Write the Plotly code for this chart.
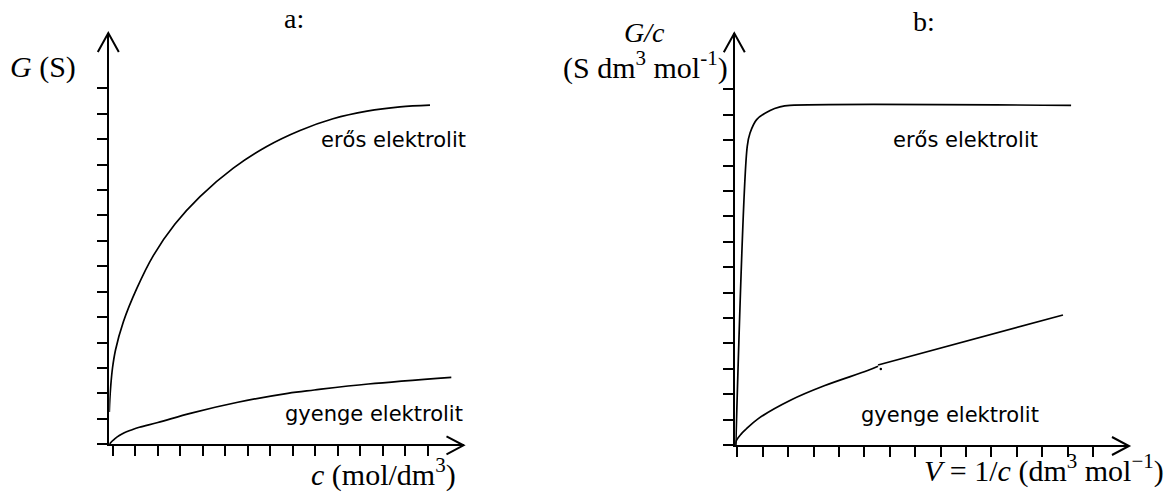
import plotly.graph_objects as go

# ---------------- panel a: conductance G against concentration c ----------------
c_strong = [0.0, 0.022, 0.067, 0.142, 0.276, 0.622, 1.218, 1.956, 2.920, 4.031,
            5.511, 6.996, 8.476, 9.942, 11.453, 12.920, 14.253]
G_strong = [1.27, 1.74, 2.33, 3.00, 3.71, 4.81, 6.12, 7.42, 8.66, 9.74,
            10.86, 11.71, 12.34, 12.80, 13.10, 13.27, 13.34]

c_weak = [0.0, 0.044, 0.133, 0.267, 0.444, 0.667, 0.978, 1.333, 2.156, 3.644, 5.711, 7.933, 9.111, 11.511, 15.20]
G_weak = [0.0, 0.047, 0.130, 0.236, 0.346, 0.456, 0.562, 0.669, 0.857, 1.227, 1.652, 2.006, 2.135, 2.371, 2.635]

c_ticks = [0.15, 1.15, 2.15, 3.15, 4.15, 5.15, 6.15, 7.15, 8.15, 9.15, 10.15, 11.15, 12.15, 13.15, 14.15]
G_ticks = [0, 1, 2, 3, 4, 5, 6, 7, 8, 9, 10, 11, 12, 13, 14]

# ---------------- panel b: molar conductance G/c against dilution V = 1/c ----------------
V_strong = [0.02, 0.47, 0.58, 0.84, 1.37, 1.76, 2.15, 13.22]
L_strong = [0.0, 11.76, 12.28, 12.81, 13.17, 13.31, 13.37, 13.37]

V_weak_curve = [0.0, 0.05, 0.22, 0.42, 0.88, 2.19, 3.50, 5.21, 5.62]
L_weak_curve = [0.0, 0.19, 0.42, 0.62, 1.02, 1.77, 2.33, 2.93, 3.10]
V_weak_line = [5.62, 12.90]
L_weak_line = [3.15, 5.12]

V_specks = [0.54, 5.73]
L_specks = [16.42, 2.99]

V_ticks = [0.08, 1.08, 2.08, 3.08, 4.08, 5.08, 6.08, 7.08, 8.08, 9.08, 10.08, 11.08, 12.08, 13.08, 14.08]
L_ticks = [0, 1, 2, 3, 4, 5, 6, 7, 8, 9, 10, 11, 12, 13, 14]

# ---------------- canvas geometry ----------------
W, H = 1176, 495
SERIF = "Liberation Serif, Times New Roman, serif"
SANS = "DejaVu Sans, Arial, sans-serif"
INK = "black"


def fx(px):
    return px / W


def fy(py):
    return 1 - py / H


# plot frames in pixels: (left, right, bottom, top)
A = (109.3, 463.5, 444.3, 33.0)
B = (735.3, 1129.0, 445.0, 33.3)
A_XSTEP, A_YSTEP = 22.5, 25.43
B_XSTEP, B_YSTEP = 25.4, 25.4

fig = go.Figure()

curve = dict(color=INK, width=1.7)
fig.add_trace(go.Scatter(x=c_strong, y=G_strong, mode="lines", line=dict(shape="spline", smoothing=1.0, **curve),
                         xaxis="x", yaxis="y", hoverinfo="skip"))
fig.add_trace(go.Scatter(x=c_weak, y=G_weak, mode="lines", line=dict(shape="spline", smoothing=1.0, **curve),
                         xaxis="x", yaxis="y", hoverinfo="skip"))
fig.add_trace(go.Scatter(x=V_strong, y=L_strong, mode="lines", line=dict(shape="spline", smoothing=0.9, **curve),
                         xaxis="x2", yaxis="y2", hoverinfo="skip"))
fig.add_trace(go.Scatter(x=V_weak_curve, y=L_weak_curve, mode="lines", line=dict(shape="spline", smoothing=1.0, **curve),
                         xaxis="x2", yaxis="y2", hoverinfo="skip"))
fig.add_trace(go.Scatter(x=V_weak_line, y=L_weak_line, mode="lines", line=dict(**curve),
                         xaxis="x2", yaxis="y2", hoverinfo="skip"))
fig.add_trace(go.Scatter(x=V_specks, y=L_specks, mode="markers", marker=dict(color=INK, size=2.5),
                         cliponaxis=False, xaxis="x2", yaxis="y2", hoverinfo="skip"))


def axis(dom, rng, ticks, anchor):
    return dict(domain=dom, range=rng, tickvals=ticks, showticklabels=False, ticks="outside",
                ticklen=10, tickwidth=1.5, tickcolor=INK, showline=True, linewidth=2, linecolor=INK,
                showgrid=False, zeroline=False, fixedrange=True, anchor=anchor)


fig.update_layout(
    width=W, height=H, margin=dict(l=0, r=0, t=0, b=0),
    paper_bgcolor="white", plot_bgcolor="white", showlegend=False,
    xaxis=axis([fx(A[0]), fx(A[1])], [0, (A[1] - A[0]) / A_XSTEP], c_ticks, "y"),
    yaxis=axis([fy(A[2]), fy(A[3])], [0, (A[2] - A[3]) / A_YSTEP], G_ticks, "x"),
    xaxis2=axis([fx(B[0]), fx(B[1])], [0, (B[1] - B[0]) / B_XSTEP], V_ticks, "y2"),
    yaxis2=axis([fy(B[2]), fy(B[3])], [0, (B[2] - B[3]) / B_YSTEP], L_ticks, "x2"),
)

# open arrow heads at the ends of both axes of each panel
for xr, yr in (("x domain", "y domain"), ("x2 domain", "y2 domain")):
    fig.add_shape(type="path", xref=xr, yref=yr, xsizemode="pixel", ysizemode="pixel",
                  xanchor=1, yanchor=0, path="M-17,8 L0,-1 L-17,-10",
                  line=dict(color=INK, width=2))
    fig.add_shape(type="path", xref=xr, yref=yr, xsizemode="pixel", ysizemode="pixel",
                  xanchor=0, yanchor=1, path="M-11.5,-19 L-1,0 L9.5,-19",
                  line=dict(color=INK, width=2))


def label(text, cx, baseline, family, size, descent):
    fig.add_annotation(text=text, xref="paper", yref="paper", x=fx(cx),
                       y=fy(baseline + descent * size + 1), xanchor="center", yanchor="bottom",
                       showarrow=False, font=dict(family=family, size=size, color=INK))


def serif(text, cx, baseline, size=30):
    label(text, cx, baseline, SERIF, size, 0.216)


def sans(text, cx, baseline, size=21):
    label(text, cx, baseline, SANS, size, 0.236)


serif("a:", 293.5, 29, 28)
serif("b:", 924, 32, 28)
serif("<i>G</i> (S)", 43, 79)
serif("<i>c</i> (mol/dm<sup>3</sup>)", 383, 487)
serif("<i>G/c</i>", 644, 43, 28)
serif("(S dm<sup>3</sup> mol<sup>-1</sup>)", 645, 80)
serif("<i>V</i> = 1/<i>c</i> (dm<sup>3</sup> mol<sup>−1</sup>)", 1043.5, 483)

sans("erős elektrolit", 393, 148)
sans("gyenge elektrolit", 373.5, 422)
sans("erős elektrolit", 965, 148)
sans("gyenge elektrolit", 950, 423)

fig.write_html("out.html")
